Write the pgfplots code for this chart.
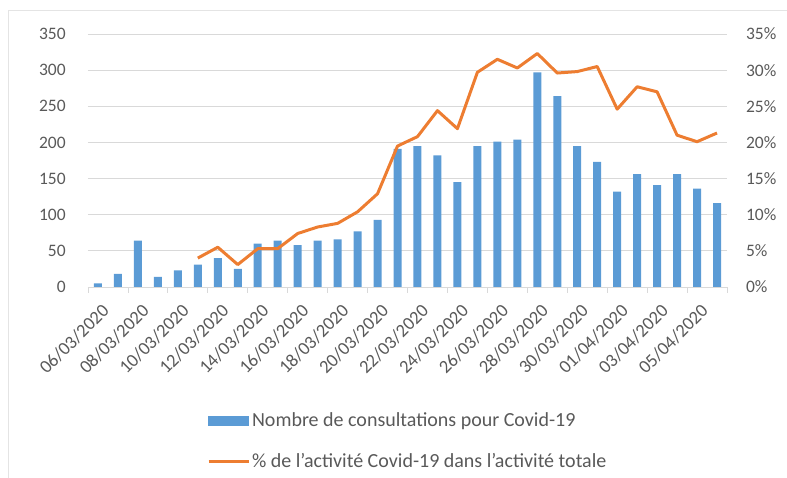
\documentclass[border=0pt]{standalone}
\usepackage{pgfplots}
\pgfplotsset{compat=1.18}
\usepackage{fontspec}
\setmainfont{Carlito}
\definecolor{barblue}{HTML}{5B9BD5}
\definecolor{lineorange}{HTML}{ED7D31}
\definecolor{txtgray}{HTML}{595959}
\definecolor{gridgray}{HTML}{D9D9D9}
\begin{document}
\fontsize{17.5pt}{21pt}\selectfont
\begin{tikzpicture}
\path[use as bounding box] (0pt,0pt) rectangle (787pt,478pt);
\draw[gridgray!70, line width=0.8pt] (8pt,0pt) -- (8pt,468pt) -- (787pt,468pt);
\begin{axis}[
  at={(88pt,191pt)}, anchor=south west,
  scale only axis, width=639pt, height=253pt,
  xmin=-0.5, xmax=31.5, ymin=0, ymax=350,
  ytick={0,50,...,350},
  ymajorgrids, grid style={gridgray, line width=0.8pt},
  axis x line*=bottom, axis y line*=left,
  x axis line style={gridgray, line width=0.8pt},
  y axis line style={draw=none},
  major y tick style={draw=none},
  xtick={0,2,...,30},
  xticklabels={06/03/2020,08/03/2020,10/03/2020,12/03/2020,14/03/2020,16/03/2020,18/03/2020,20/03/2020,22/03/2020,24/03/2020,26/03/2020,28/03/2020,30/03/2020,01/04/2020,03/04/2020,05/04/2020},
  major x tick style={draw=none},
  minor xtick={-0.5,1.5,...,31.5},
  minor x tick style={gridgray, line width=0.8pt},
  minor tick length=6pt, tick align=outside,
  x tick label style={rotate=45, anchor=east, font=\fontsize{18.5pt}{22pt}\selectfont, text=txtgray, xshift=0pt, yshift=-17pt},
  y tick label style={font=\fontsize{17.5pt}{21pt}\selectfont, text=txtgray, xshift=-12pt},
  /pgf/number format/assume math mode=true,
  clip=false,
]
\addplot[ybar, bar width=8pt, fill=barblue, draw=none] coordinates {
(0,5) (1,18) (2,64) (3,14) (4,23) (5,31) (6,40) (7,25) (8,60) (9,64)
(10,58) (11,64) (12,66) (13,77) (14,93) (15,191) (16,195) (17,182) (18,145) (19,195)
(20,201) (21,204) (22,297) (23,264) (24,195) (25,173) (26,132) (27,156) (28,141) (29,156)
(30,136) (31,116)
};
\end{axis}
\begin{axis}[
  at={(88pt,191pt)}, anchor=south west,
  scale only axis, width=639pt, height=253pt,
  xmin=-0.5, xmax=31.5, ymin=0, ymax=35,
  ytick={0,5,...,35},
  axis x line=none, axis y line*=right,
  y axis line style={draw=none},
  major y tick style={draw=none},
  yticklabel={\pgfmathprintnumber{\tick}\%},
  y tick label style={font=\fontsize{17.5pt}{21pt}\selectfont, text=txtgray, xshift=13pt},
  /pgf/number format/assume math mode=true,
  legend style={at={(0.186,-0.488)}, anchor=north west, draw=none, fill=none,
    font=\fontsize{20pt}{24pt}\selectfont, text=txtgray, row sep=20pt, inner sep=0pt},
  legend cell align=left,
  clip=false,
]
\addlegendimage{legend image code/.code={\fill[barblue] (0pt,-4.5pt) rectangle (40pt,4.5pt);}}
\addlegendentry{Nombre de consultations pour Covid-19}
\addplot[lineorange, line width=3pt, line join=round,
  legend image code/.code={\draw[lineorange, line width=3pt] (0pt,0pt) -- (40pt,0pt);}] coordinates {
(5,4.0) (6,5.5) (7,3.1) (8,5.3) (9,5.3) (10,7.4) (11,8.3) (12,8.8) (13,10.4) (14,12.9)
(15,19.5) (16,20.8) (17,24.4) (18,21.9) (19,29.7) (20,31.5) (21,30.3) (22,32.3) (23,29.6) (24,29.8)
(25,30.5) (26,24.6) (27,27.7) (28,27.0) (29,21.0) (30,20.1) (31,21.3)
};
\addlegendentry{\% de l'activité Covid-19 dans l'activité totale}
\end{axis}
\end{tikzpicture}
\end{document}
